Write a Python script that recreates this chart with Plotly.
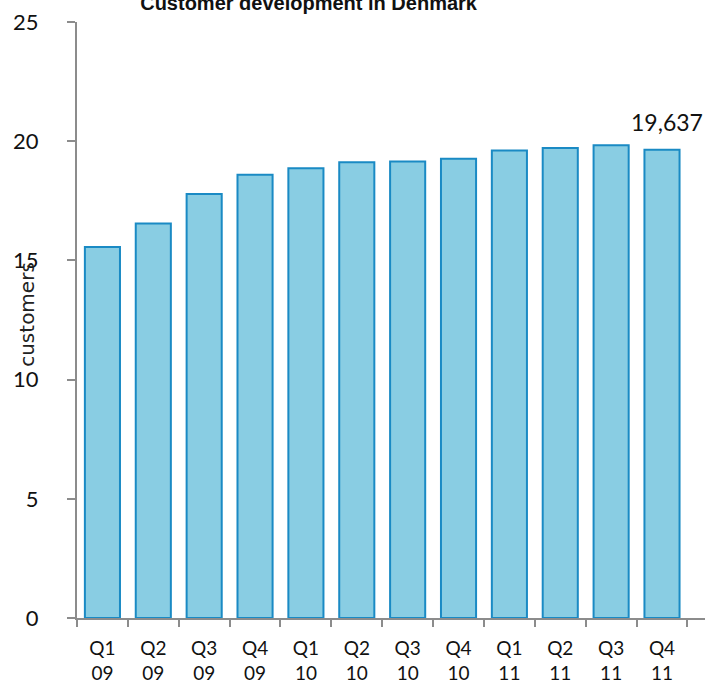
import plotly.graph_objects as go

quarters = ["Q1<br>09", "Q2<br>09", "Q3<br>09", "Q4<br>09",
            "Q1<br>10", "Q2<br>10", "Q3<br>10", "Q4<br>10",
            "Q1<br>11", "Q2<br>11", "Q3<br>11", "Q4<br>11"]
customers_k = [15.56, 16.55, 17.79, 18.59, 18.87, 19.12, 19.15, 19.26,
               19.61, 19.72, 19.83, 19.637]
last_label = "19,637"

FONT = "Lato"

fig = go.Figure()
fig.add_trace(go.Bar(
    x=quarters, y=customers_k,
    marker=dict(color="#89CDE3", line=dict(color="#1A8AC4", width=2)),
    showlegend=False,
))

fig.add_annotation(
    x=quarters[-1], y=customers_k[-1], text=last_label,
    showarrow=False, yanchor="bottom", yshift=12, xshift=5,
    font=dict(family=FONT, size=23, color="#111111"),
)

fig.add_annotation(
    xref="paper", yref="paper", x=-0.08, y=0.51,
    xanchor="center", yanchor="middle",
    text="customers", textangle=-90, showarrow=False,
    font=dict(family="DejaVu Sans", size=20, color="#222222"),
)

fig.update_layout(
    title=dict(text="<b>Customer development in Denmark</b>",
               x=0.428, xanchor="center", y=0.995, yref="container",
               yanchor="middle", automargin=False,
               font=dict(family="Liberation Sans", size=20, color="#111111")),
    width=721, height=689,
    margin=dict(l=77, r=16, t=22, b=71, autoexpand=False),
    paper_bgcolor="white", plot_bgcolor="white",
    bargap=0.31,
    font=dict(family=FONT, color="#111111"),
)

fig.update_xaxes(
    showline=True, linecolor="#8c8c8c", linewidth=2,
    ticks="outside", tickson="boundaries", ticklen=7, tickwidth=2, tickcolor="#8c8c8c",
    tickfont=dict(size=19), ticklabelstandoff=12,
    showgrid=False, automargin=False,
)
fig.update_yaxes(
    range=[0, 25], dtick=5, showline=True, linecolor="#8c8c8c", linewidth=2,
    ticks="outside", ticklen=8, tickwidth=2, tickcolor="#8c8c8c",
    tickfont=dict(size=22), ticklabelstandoff=24,
    showgrid=False, zeroline=False, automargin=False,
)

# page body has a default 8px margin; drop it so the chart sits at 0,0
fig.write_html("out.html", config={"displayModeBar": False},
               post_script="document.body.style.margin='0';")
